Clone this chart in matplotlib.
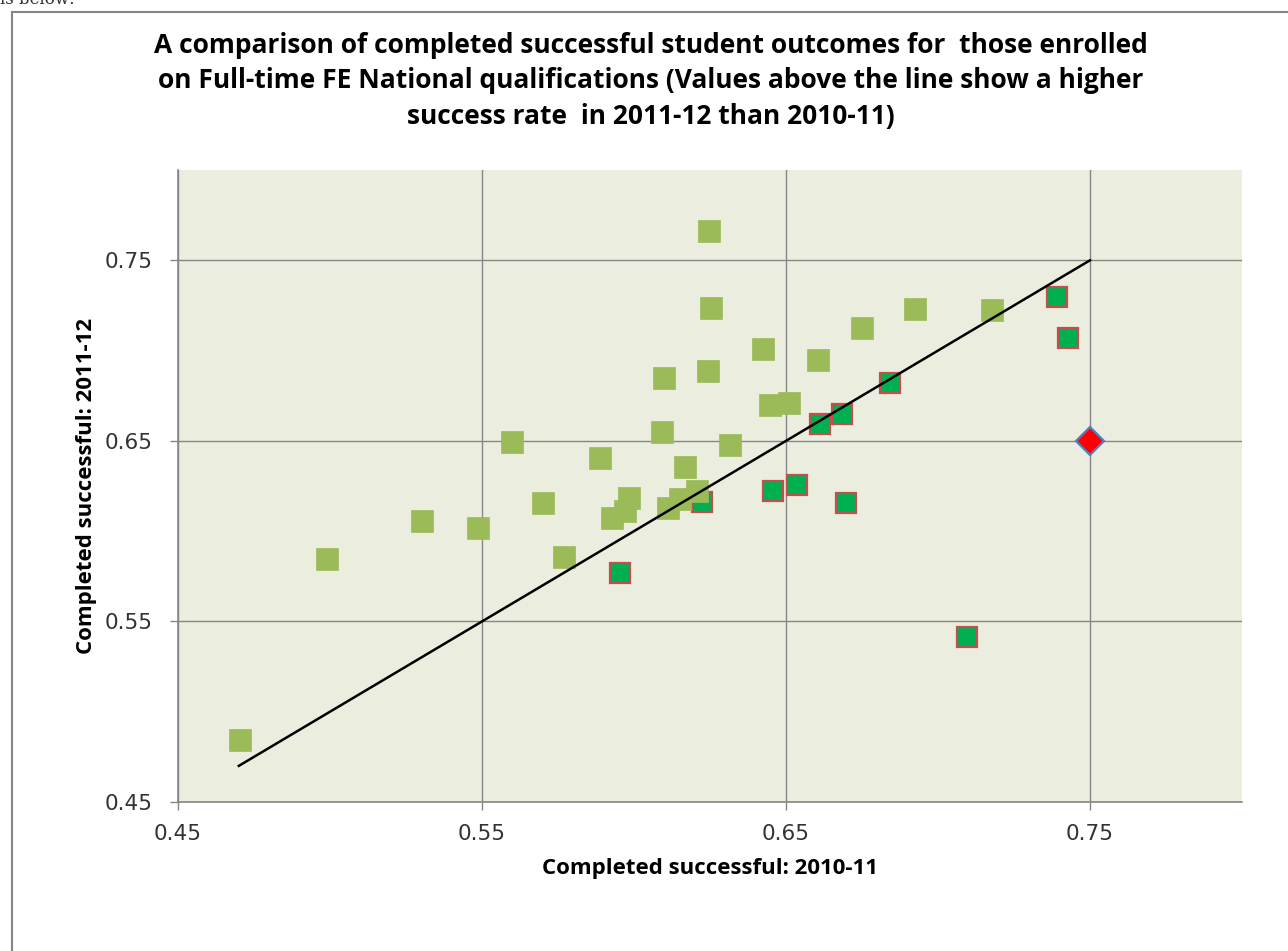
import matplotlib
matplotlib.use("Agg")
import matplotlib.pyplot as plt
from matplotlib.lines import Line2D

# Data: (2010-11, 2011-12)
higher_x = [0.4704, 0.4990, 0.5303, 0.5487, 0.5599, 0.5701, 0.5770, 0.5888, 0.5928,
            0.5970, 0.5984, 0.6092, 0.6112, 0.6099, 0.6151, 0.6168, 0.6207, 0.6247,
            0.6253, 0.6243, 0.6316, 0.6424, 0.6447, 0.6510, 0.6605, 0.6750, 0.6924, 0.7178]
higher_y = [0.4843, 0.5845, 0.6055, 0.6016, 0.6492, 0.6155, 0.5856, 0.6404, 0.6072,
            0.6110, 0.6182, 0.6548, 0.6127, 0.6846, 0.6177, 0.6354, 0.6221, 0.7660,
            0.7234, 0.6885, 0.6476, 0.7007, 0.6697, 0.6708, 0.6946, 0.7123, 0.7228, 0.7223]

lower_x = [0.5954, 0.6224, 0.6457, 0.6536, 0.6612, 0.6684, 0.6697, 0.6842, 0.7095, 0.7391, 0.7428]
lower_y = [0.5767, 0.6160, 0.6221, 0.6254, 0.6592, 0.6647, 0.6155, 0.6819, 0.5413, 0.7295, 0.7068]

highlight_x = [0.75]
highlight_y = [0.65]

line_x = [0.47, 0.75]
line_y = [0.47, 0.75]

ticks = [0.45, 0.55, 0.65, 0.75]
tick_labels = ["0.45", "0.55", "0.65", "0.75"]

title = ("A comparison of completed successful student outcomes for  those enrolled\n"
         "on Full-time FE National qualifications (Values above the line show a higher\n"
         "success rate  in 2011-12 than 2010-11)")

W, H = 1288, 951
fig = plt.figure(figsize=(W / 100, H / 100), dpi=100)
fig.patch.set_facecolor("white")
ax = fig.add_axes([178 / W, 1 - 802 / H, (1242 - 178) / W, (802 - 170) / H])
ax.set_facecolor("#EBEEDF")

grey = "#868686"
ax.set_xlim(0.45, 0.80)
ax.set_ylim(0.45, 0.80)
ax.set_xticks(ticks)
ax.set_yticks(ticks)
ax.set_xticklabels(tick_labels)
ax.set_yticklabels(tick_labels)
ax.grid(True, color=grey, linewidth=1.0)
ax.set_axisbelow(True)
for s in ["top", "right"]:
    ax.spines[s].set_visible(False)
for s in ["left", "bottom"]:
    ax.spines[s].set_color(grey)
    ax.spines[s].set_linewidth(1.2)
ax.tick_params(axis="both", direction="out", length=6, color=grey, width=1.0,
               labelsize=15.5, labelcolor="#333333")
ax.tick_params(axis="y", pad=12)
ax.tick_params(axis="x", pad=10)
for lab in ax.get_xticklabels() + ax.get_yticklabels():
    lab.set_family("DejaVu Sans")

ax.plot(lower_x, lower_y, linestyle="none", marker="s", markersize=14,
        markerfacecolor="#00B050", markeredgecolor="#C0504D", markeredgewidth=1.6, zorder=3)
ax.plot(higher_x, higher_y, linestyle="none", marker="s", markersize=15.5,
        markerfacecolor="#9BBB59", markeredgecolor="#9BBB59", markeredgewidth=0.5, zorder=4)
ax.plot(line_x, line_y, color="black", linewidth=1.8, zorder=5)
ax.plot(highlight_x, highlight_y, linestyle="none", marker="D", markersize=14,
        markerfacecolor="#FF0000", markeredgecolor="#4F81BD", markeredgewidth=1.6, zorder=6)

fig.text(651 / W, 1 - 81 / H, title, ha="center", va="center", fontsize=19,
         fontweight="bold", family="Open Sans", linespacing=1.42, color="black")
ax.set_xlabel("Completed successful: 2010-11", fontsize=16, fontweight="bold",
              family="Open Sans", labelpad=10)
ax.set_ylabel("Completed successful: 2011-12", fontsize=16, fontweight="bold",
              family="Open Sans", labelpad=6)

# outer chart border
fig.add_artist(Line2D([12 / W, 1.0], [1 - 12 / H, 1 - 12 / H], transform=fig.transFigure,
                      color=grey, linewidth=1.5))
fig.add_artist(Line2D([12 / W, 12 / W], [1 - 12 / H, 0.0], transform=fig.transFigure,
                      color=grey, linewidth=1.5))
# text fragment at the top edge
fig.text(0.0, 1 - 4 / H, "is below:", ha="left", va="baseline", fontsize=12,
         family="DejaVu Serif", color="#333333")

fig.savefig("out.png", dpi=100)
